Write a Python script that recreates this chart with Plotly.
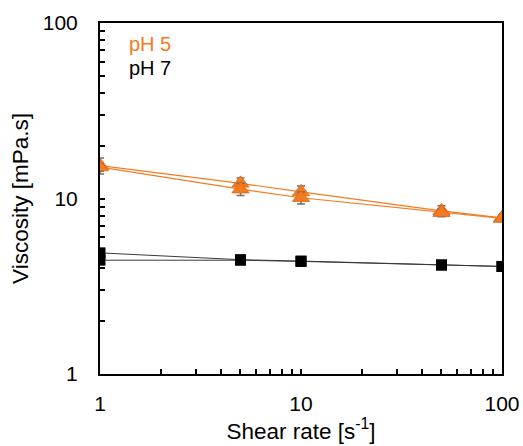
import plotly.graph_objects as go

# Shear rates of the flow sweep [1/s]
shear_rate = [1, 5, 10, 50, 100]

# Viscosity [mPa.s], pH 5: increasing and decreasing shear sweeps with SD
ph5_up = [15.4, 12.2, 10.9, 8.5, 7.75]
ph5_up_sd = [1.6, 0.9, 0.9, 0.6, 0.3]
ph5_down = [15.1, 11.3, 10.1, 8.3, 7.7]
ph5_down_sd = [0.8, 0.9, 0.8, 0.4, 0.3]

# Viscosity [mPa.s], pH 7: increasing and decreasing shear sweeps
ph7_up = [4.9, 4.48, 4.4, 4.18, 4.1]
ph7_down = [4.45, 4.45, 4.38, 4.18, 4.1]

# Axis ticks
major_ticks = [1, 10, 100]
major_labels = ["1", "10", "100"]
minor_ticks = [2, 3, 4, 5, 6, 7, 8, 9, 20, 30, 40, 50, 60, 70, 80, 90]

ORANGE = "#F47B20"
ORANGE_EDGE = "#D9661A"
FONT = "Liberation Sans, Arial, sans-serif"

fig = go.Figure()

for ys in (ph7_up, ph7_down):
    fig.add_trace(go.Scatter(
        x=shear_rate, y=ys, mode="lines+markers",
        line=dict(color="#3a3a3a", width=1),
        marker=dict(symbol="square", size=11, color="black",
                    line=dict(color="black", width=0)),
        showlegend=False,
    ))

for ys, sd in ((ph5_up, ph5_up_sd), (ph5_down, ph5_down_sd)):
    fig.add_trace(go.Scatter(
        x=shear_rate, y=ys, mode="lines+markers",
        line=dict(color=ORANGE, width=1.2),
        marker=dict(symbol="triangle-up", size=15, color=ORANGE,
                    line=dict(color=ORANGE_EDGE, width=0.8)),
        error_y=dict(type="data", array=sd, visible=True,
                     color="#6e6e6e", thickness=1.5, width=4),
        showlegend=False,
    ))

axis_common = dict(
    type="log", range=[0, 2],
    showline=True, linecolor="black", linewidth=2, mirror=True,
    showgrid=False, zeroline=False,
    tickmode="array", tickvals=major_ticks, ticktext=major_labels,
    ticks="inside", ticklen=5, tickwidth=2, tickcolor="black",
    minor=dict(tickmode="array", tickvals=minor_ticks, ticks="inside",
               ticklen=5, tickwidth=2, tickcolor="black", showgrid=False),
    tickfont=dict(family=FONT, size=21, color="black"),
)

fig.update_xaxes(**axis_common, ticklabelstandoff=10,
                 title=dict(text="Shear rate [s<sup>-1</sup>]",
                            font=dict(family=FONT, size=22.5, color="black"),
                            standoff=5))
fig.update_yaxes(**axis_common, ticklabelstandoff=16,
                 title=dict(text="Viscosity [mPa.s]",
                            font=dict(family=FONT, size=22.5, color="black"),
                            standoff=8))

fig.add_annotation(xref="paper", yref="paper", x=0.068, y=0.94,
                   xanchor="left", yanchor="middle", showarrow=False,
                   text="pH 5", font=dict(family=FONT, size=20, color=ORANGE))
fig.add_annotation(xref="paper", yref="paper", x=0.068, y=0.873,
                   xanchor="left", yanchor="middle", showarrow=False,
                   text="pH 7", font=dict(family=FONT, size=20, color="black"))

fig.update_layout(
    width=523, height=446,
    margin=dict(l=100, r=21, t=23, b=72, autoexpand=False),
    paper_bgcolor="white", plot_bgcolor="white",
    font=dict(family=FONT, color="black"),
)

fig.write_html("out.html")
